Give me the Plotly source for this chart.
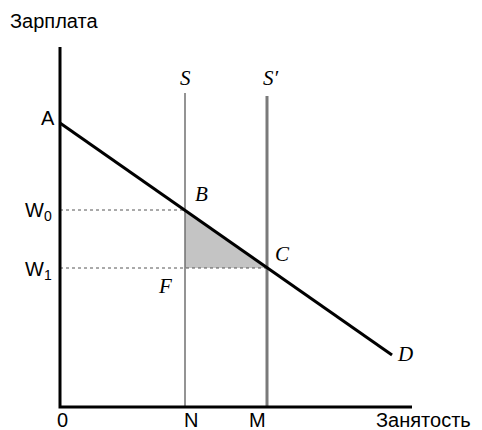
import plotly.graph_objects as go

# values in chart units (origin at 0)
demand_x = [0, 332]
demand_y = [284, 52]
n_emp, m_emp = 125, 207
w0, w1 = 197, 139
s_top, s2_top = 314, 311
axis_x_end, axis_y_end = 352, 360

fig = go.Figure()

# shaded triangle BCF
fig.add_trace(go.Scatter(x=[n_emp, m_emp, n_emp, n_emp], y=[w0, w1, w1, w0],
                         fill='toself', fillcolor='#c4c4c4', mode='lines',
                         line=dict(width=0), hoverinfo='skip'))

# dotted wage lines
fig.add_trace(go.Scatter(x=[0, n_emp], y=[w0, w0], mode='lines',
                         line=dict(color='#555', width=1, dash='dot')))
fig.add_trace(go.Scatter(x=[0, m_emp], y=[w1, w1], mode='lines',
                         line=dict(color='#555', width=1, dash='dot')))

# supply S and S'
fig.add_trace(go.Scatter(x=[n_emp, n_emp], y=[0, s_top], mode='lines',
                         line=dict(color='#707070', width=1.5)))
fig.add_trace(go.Scatter(x=[m_emp, m_emp], y=[0, s2_top], mode='lines',
                         line=dict(color='#7a7a7a', width=3)))

# demand AD
fig.add_trace(go.Scatter(x=demand_x, y=demand_y, mode='lines',
                         line=dict(color='black', width=3)))

# axes
fig.add_trace(go.Scatter(x=[0, 0, axis_x_end], y=[axis_y_end, 0, 0], mode='lines',
                         line=dict(color='black', width=3)))

sans = dict(family='Liberation Sans, Arial', size=20, color='black')
serif = dict(family='Liberation Serif, Times New Roman', size=21, color='black')

labels_sans = [
    ('Занятость', 413, -13, 'right'),
    ('0', 2, -13, 'center'),
    ('N', 131, -13, 'center'),
    ('M', 197, -13, 'center'),
    ('A', -12, 289, 'center'),
    ('W<sub>0</sub>', -22, 196, 'center'),
    ('W<sub>1</sub>', -22, 137, 'center'),
]
labels_serif = [
    ('S', 125, 329), ('S′', 211, 329), ('B', 141, 213),
    ('C', 222, 153), ('F', 105, 121), ('D', 345, 53),
]
fig.add_annotation(x=0, xref='paper', y=386, text='Зарплата', showarrow=False,
                   xanchor='left', font=sans)
for t, x, y, xa in labels_sans:
    fig.add_annotation(x=x, y=y, text=t, showarrow=False, xanchor=xa, font=sans)
for t, x, y in labels_serif:
    fig.add_annotation(x=x, y=y, text='<i>' + t + '</i>', showarrow=False, font=serif)

# ranges offset by the 8px page margin
fig.update_layout(
    width=482, height=430, margin=dict(l=0, r=0, t=0, b=0),
    plot_bgcolor='white', paper_bgcolor='white', showlegend=False,
    xaxis=dict(range=[-52, 430], visible=False),
    yaxis=dict(range=[-31, 399], visible=False),
)

fig.write_html("out.html")
